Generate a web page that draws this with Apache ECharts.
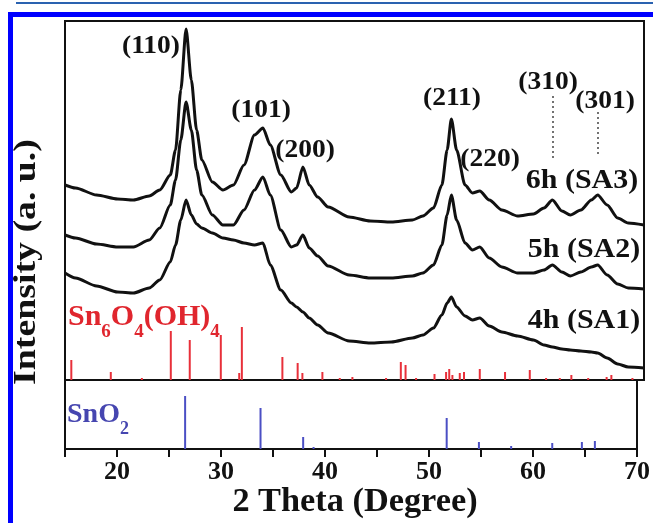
<!DOCTYPE html>
<html><head><meta charset="utf-8">
<script src="https://cdn.jsdelivr.net/npm/echarts@6/dist/echarts.min.js"></script>
<style>html,body{margin:0;padding:0;background:#fff;}#c{width:653px;height:523px;}</style>
</head><body><div id="c"></div>
<script>
// ---- data ----
const twoTheta = [15,16,18,20,21.5,23,24,25,25.5,26,
  26.5,27,27.5,28,29,30,31,32,33,33.8,
  34.5,35.5,36.5,37,37.6,38.2,39,40,42,44,
  46,48,49,50,50.8,51.3,51.7,52.2,53,53.7,
  54.4,55.3,56.5,58,59.5,60.5,61.3,62.2,63,64,
  65,65.6,66.5,67.5,68.5,70];
const sa3 = [195,192,185,181,180,184,190,205,230,290,
  351,300,250,220,198,190,195,215,245,252,
  235,205,188,192,213,195,183,173,163,159,
  158,160,164,172,195,230,261,230,195,187,
  189,180,170,164,166,172,180,169,165,170,
  180,185,175,162,157,155];
const sa2 = [145,142,136,133,133,140,152,175,200,240,
  278,250,210,185,165,155,155,170,190,203,
  185,150,133,135,145,132,124,114,105,102,
  102,104,107,115,135,165,185,160,137,130,
  133,122,113,107,107,110,115,108,104,108,
  113,115,105,96,92,91];
const sa1 = [107,102,94,88,87,92,100,118,135,160,
  180,165,156,152,147,142,140,137,135,137,
  115,90,77,73,68,62,55,47,39,37,
  38,42,45,52,65,77,83,73,64,60,
  62,54,48,44,40,35,33,31,30,29,
  28,27,22,16,13,12];
const sn6Pos = [15.6,19.35,22.3,25.05,26.85,29.8,31.55,31.8,35.65,37.1,37.55,39.45,41.1,42.3,45.5,46.9,47.35,48.35,50.1,51.2,51.5,51.8,52.5,52.9,54.4,56.8,59.15,60.7,62.0,63.1,64.7,66.45,66.9,68.9];
const sn6Int = [20,8,2,49,40,45,7,53,23,17,7,8,2,3,2,18,15,2,6,8,11,5,7,8,11,8,10,2,2,5,2,3,5,2];
const snO2Pos = [26.55,33.8,37.9,38.9,51.7,54.8,57.9,61.85,64.7,65.95];
const snO2Int = [53,41,12,2,31,7,3,6,7,8];
const xTickLabels = [20,30,40,50,60,70];
const peakLabels = ['(110)','(101)','(200)','(211)','(220)','(310)','(301)'];
const sampleLabels = ['6h (SA3)','5h (SA2)','4h (SA1)'];

// ---- drawing ----
const FONT = '"Liberation Serif","Times New Roman",serif';
const pairs = (xs, ys) => xs.map((x, i) => [x, ys[i]]);
const mctx = document.createElement('canvas').getContext('2d');
function segText(x0, yMid, segs, color, size, subSize, subDy) {
  const out = []; let x = x0;
  segs.forEach(([t, sub]) => {
    const fs = sub ? subSize : size; const font = `bold ${fs}px ${FONT}`;
    mctx.font = font; const w = mctx.measureText(t).width;
    out.push({type:'text', x: x, y: yMid + (sub ? subDy : 0), silent:true,
      style:{text:t, font:font, fill:color, textAlign:'left', textVerticalAlign:'middle'}});
    x += w;
  });
  return out;
}
function txt(t, x, y, size, extra) {
  return Object.assign({type:'text', x:x, y:y, silent:true,
    style:{text:t, font:`bold ${size}px ${FONT}`, fill:'#111', textAlign:'center', textVerticalAlign:'middle'}}, extra||{});
}
const peakPos = [[151,47],[261,111],[305,151],[452,99],[490,160],[548,83],[605,102]];
const samplePos = [[582,181],[584,250],[584,321]];

const RED = '#e8303a', BLUE = '#4b4fc4';
const graphics = [
  {type:'rect', shape:{x:16, y:2, width:640, height:2}, style:{fill:'#2a62b0'}, silent:true},
  {type:'rect', shape:{x:8, y:12, width:650, height:5}, style:{fill:'#0000ff'}, silent:true},
  {type:'rect', shape:{x:8, y:12, width:5, height:520}, style:{fill:'#0000ff'}, silent:true},
  txt('Intensity (a. u.)', 27, 262, 31, {rotation: Math.PI/2, scaleX:1.22}),
  txt('2 Theta (Degree)', 355, 502, 33, {scaleX:1.04}),
  {type:'line', shape:{x1:553, y1:96, x2:553, y2:160}, style:{stroke:'#444', lineWidth:1.5, lineDash:[2,3]}, silent:true},
  {type:'line', shape:{x1:598, y1:112, x2:598, y2:157}, style:{stroke:'#444', lineWidth:1.5, lineDash:[2,3]}, silent:true}
];
peakLabels.forEach((t, i) => graphics.push(txt(t, peakPos[i][0], peakPos[i][1], 25, {scaleX:1.1})));
sampleLabels.forEach((t, i) => graphics.push(txt(t, samplePos[i][0], samplePos[i][1], 28, {scaleX:1.07})));
segText(68, 317, [['Sn',0],['6',1],['O',0],['4',1],['(OH)',0],['4',1]], '#e0262e', 30, 19, 15).forEach(g => graphics.push(g));
segText(67, 415, [['SnO',0],['2',1]], '#4646b0', 28, 18, 14).forEach(g => graphics.push(g));

const lineSeries = (name, ys) => ({name, type:'line', xAxisIndex:0, yAxisIndex:0, data: pairs(twoTheta, ys),
  showSymbol:false, smooth:0.25, smoothMonotone:'x', lineStyle:{color:'#111', width:3}, silent:true});

const chart = echarts.init(document.getElementById('c'), null, {renderer:'canvas'});
chart.setOption({
  animation:false,
  backgroundColor:'#fff',
  grid:[{left:65, right:9, top:21, height:359, show:true, borderColor:'#111', borderWidth:2, backgroundColor:'transparent'},
        {left:65, right:9, top:380, height:69, show:true, borderColor:'#111', borderWidth:2, backgroundColor:'transparent'}],
  xAxis:[{gridIndex:0, type:'value', min:15, max:70, show:false},
         {gridIndex:1, type:'value', min:15, max:70, interval:5,
          axisLine:{show:true, onZero:false, lineStyle:{color:'#111', width:2}},
          axisTick:{show:true, inside:false, length:8, lineStyle:{color:'#111', width:2}},
          axisLabel:{formatter: v => xTickLabels.includes(v) ? String(v) : '', color:'#111', fontFamily:FONT, fontWeight:'bold', fontSize:26, margin:10},
          splitLine:{show:false}}],
  yAxis:[{gridIndex:0, type:'value', min:0, max:359, show:false},
         {gridIndex:1, type:'value', min:0, max:69, show:false}],
  series:[
    lineSeries('6h (SA3)', sa3),
    lineSeries('5h (SA2)', sa2),
    lineSeries('4h (SA1)', sa1),
    {name:'Sn6O4(OH)4', type:'bar', xAxisIndex:0, yAxisIndex:0, data: pairs(sn6Pos, sn6Int), barWidth:2, itemStyle:{color:RED}, silent:true},
    {name:'SnO2', type:'bar', xAxisIndex:1, yAxisIndex:1, data: pairs(snO2Pos, snO2Int), barWidth:2, itemStyle:{color:BLUE}, silent:true}
  ],
  graphic: graphics
});
</script></body></html>
